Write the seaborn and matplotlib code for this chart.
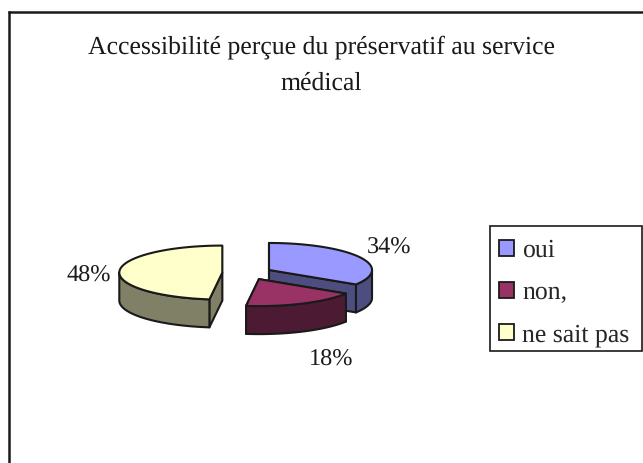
import numpy as np
import seaborn as sns
import matplotlib.pyplot as plt
from matplotlib.patches import Patch, Rectangle

#Data
categories = ['oui', 'non,', 'ne sait pas']
values = [34, 18, 48]
title = "Accessibilité perçue du préservatif au service\nmédical"
top_colors = ['#9999FF', '#993366', '#FFFFCC']
side_colors = ['#4D4D80', '#4D1A33', '#808066']
explode = [0.233, 0.25, 0.25]

sns.set_theme(style="white")
plt.rcParams['font.family'] = ['Liberation Serif', 'DejaVu Serif']
plt.rcParams['text.hinting'] = 'none'

#Pie geometry, in pixels of the 643x463 canvas
cx, cy = 248, 273
rx, ry = 103, 27
depth = 28
edge = 1.5


def point(angle, x0, y0):
    """
    Position on the ellipse, angle in degrees clockwise from 12 o'clock.
    """
    a = np.radians(angle)
    return x0 + rx * np.sin(a), y0 - ry * np.cos(a)


def draw_slice(ax, start, end, shift, top, side):
    """
    Draw one extruded slice: cut faces, then visible outer wall, then top.
    """
    mid = (start + end) / 2
    a = np.radians(mid)
    x0 = cx + shift * rx * np.sin(a)
    y0 = cy - shift * ry * np.cos(a)

    for angle in [start, end] if start < 90 else [end, start]:
        x, y = point(angle, x0, y0)
        ax.fill([x0, x, x, x0], [y0, y, y + depth, y0 + depth],
                facecolor=side, edgecolor='k', lw=edge, joinstyle='round', zorder=2)

    #only the part of the wall between 3 and 9 o'clock faces the viewer
    a0, a1 = max(start, 90), min(end, 270)
    t = np.linspace(a0, a1, 60)
    x, y = point(t, x0, y0)
    ax.fill(np.r_[x, x[::-1]], np.r_[y, y[::-1] + depth],
            facecolor=side, edgecolor='k', lw=edge, joinstyle='round', zorder=2)

    t = np.linspace(start, end, 120)
    x, y = point(t, x0, y0)
    ax.fill(np.r_[x0, x], np.r_[y0, y],
            facecolor=top, edgecolor='k', lw=edge, joinstyle='round', zorder=2)


fig = plt.figure(figsize=(6.43, 4.63), dpi=100)
ax = fig.add_axes([0, 0, 1, 1])
ax.set_xlim(0, 643)
ax.set_ylim(463, 0)
ax.axis('off')

#Chart frame, the image cuts it off at the bottom
ax.plot([9, 9], [463, 11.5], color='k', lw=1.8, solid_capstyle='projecting')
ax.plot([9, 643], [11.5, 11.5], color='k', lw=1.8)
ax.plot([642.5, 642.5], [11.5, 463], color='#999999', lw=0.7)

ax.text(321, 65.5, title, ha='center', va='center', fontsize=18.5, linespacing=1.72, color='k')

#Slices are painted back to front: yellow, blue, red
edges = np.r_[0, np.cumsum(values)] * 360 / sum(values)
for i in [2, 0, 1]:
    draw_slice(ax, edges[i], edges[i + 1], explode[i], top_colors[i], side_colors[i])

label_pos = [(89, 276), (331, 360), (389, 248)]
for v, (x, y) in zip([values[2], values[1], values[0]], label_pos):
    ax.text(x, y, f"{v}%", ha='center', va='center', fontsize=17.5, color='k')

#Legend box is drawn apart so the rows can sit where they do in the picture
ax.add_patch(Rectangle((489.5, 226), 152, 125, facecolor='white', edgecolor='k', lw=1.2, zorder=3))
handles = [Patch(facecolor=c, edgecolor='k', lw=1.3) for c in top_colors]
leg = ax.legend(handles, categories, loc='upper left', bbox_to_anchor=(499 / 643, 1 - 239 / 463),
                fontsize=18.5, frameon=False,
                handlelength=0.58, handleheight=0.58, handletextpad=0.32, labelspacing=0.72,
                borderpad=0, borderaxespad=0)
leg.set_zorder(4)

fig.savefig('out.png', dpi=100)
